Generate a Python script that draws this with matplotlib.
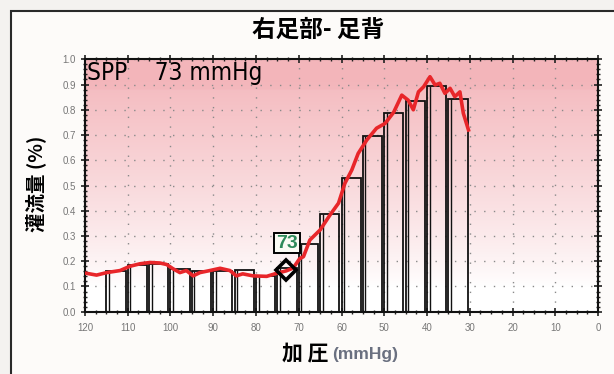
import numpy as np
import matplotlib.pyplot as plt
from matplotlib.patches import Rectangle
from matplotlib.ticker import MultipleLocator

plt.rcParams['font.family'] = ['Liberation Sans', 'Noto Sans CJK JP', 'DejaVu Sans']

# bars: left edge pressure (mmHg) and height
bar_pressure = [115, 110, 105, 100, 95, 90, 85, 80, 75, 70, 65, 60, 55, 50, 45, 40, 35]
bar_value = [0.16, 0.185, 0.19, 0.17, 0.16, 0.16, 0.165, 0.14, 0.172, 0.268,
             0.387, 0.528, 0.696, 0.786, 0.836, 0.894, 0.843]

# red perfusion trace
curve_pressure = [119.6, 117.3, 114.9, 111.8, 109.5, 107.1, 104.8, 102.5, 100.9, 99.4,
                  97.8, 96.3, 94.7, 93.1, 90.8, 88.4, 86.1, 84.6, 83.1, 80.7,
                  77.5, 75.2, 72.9, 71.3, 69.8, 68.9, 67.4, 65.0, 62.7, 60.7,
                  59.2, 57.6, 56.1, 54.1, 51.8, 49.8, 47.8, 45.9, 44.4, 43.2,
                  42.0, 40.8, 39.3, 38.1, 37.0, 35.8, 34.6, 33.5, 32.3, 31.5, 30.3]
curve_value = [0.152, 0.145, 0.155, 0.163, 0.18, 0.19, 0.195, 0.193, 0.187, 0.17,
               0.155, 0.163, 0.142, 0.155, 0.163, 0.172, 0.163, 0.142, 0.15, 0.142,
               0.14, 0.152, 0.162, 0.173, 0.21, 0.218, 0.284, 0.324, 0.383, 0.43,
               0.509, 0.561, 0.627, 0.68, 0.727, 0.746, 0.79, 0.858, 0.838, 0.8,
               0.871, 0.891, 0.931, 0.898, 0.905, 0.865, 0.885, 0.852, 0.871, 0.786, 0.72]

spp = 73
spp_value = 0.165

fig = plt.figure(figsize=(6.14, 3.74), dpi=100)
fig.patch.set_facecolor('#f4f2f0')
frame = Rectangle((11 / 614, -0.1), 1.2, 0.1 + (374 - 11) / 374, transform=fig.transFigure,
                  facecolor='#fdfbf9', edgecolor='#2a2a2a', linewidth=1.5, zorder=-5)
fig.patches.append(frame)

ax = fig.add_axes([85 / 614, (374 - 311.7) / 374, (598 - 85) / 614, (311.7 - 59.3) / 374])
ax.set_xlim(120, 0)
ax.set_ylim(0, 1.0)

# pink gradient background
t = np.linspace(0, 1, 256)
alpha = np.clip((t - 0.1) / 0.9, 0, 1) ** 0.85
alpha[t > 0.88] = np.minimum(alpha[t > 0.88] * 1.08, 1)
grad = np.ones((256, 1, 4))
grad[:, 0, 0] = 1.0 - alpha * (1 - 0.955)
grad[:, 0, 1] = 1.0 - alpha * (1 - 0.71)
grad[:, 0, 2] = 1.0 - alpha * (1 - 0.73)
ax.imshow(grad, extent=(120, 0, 0, 1), origin='lower', aspect='auto', zorder=0)

ax.grid(True, which='major', color='#8a8a8a', linestyle=(0, (1, 6)), linewidth=1, zorder=1)

ax.bar(bar_pressure, bar_value, width=-4.5, align='edge', fill=False,
       edgecolor='#111111', linewidth=1.3, zorder=2)
ax.vlines(np.array(bar_pressure) - 0.6, 0, bar_value, color='#111111', linewidth=1, zorder=2)

ax.plot(curve_pressure, curve_value, color='#e8262a', linewidth=2.6, zorder=3)

ax.plot([spp], [spp_value], marker='D', markersize=10, markerfacecolor='none',
        markeredgecolor='black', markeredgewidth=2.6, zorder=4)
ax.text(spp - 0.3, 0.272, '73', color='#2f8a5a', fontsize=14, fontweight='bold',
        ha='center', va='center', zorder=5,
        bbox=dict(boxstyle='square,pad=0.1', facecolor='#fbfbf4', edgecolor='black', linewidth=1.4))

ax.text(119.6, 0.995, 'SPP    73 mmHg', fontsize=17.5, va='top', ha='left',
        family=['DejaVu Sans Condensed', 'Liberation Sans Narrow', 'DejaVu Sans'],
        fontstretch='condensed', zorder=5)

ax.xaxis.set_major_locator(MultipleLocator(10))
ax.xaxis.set_minor_locator(MultipleLocator(2.5))
ax.yaxis.set_major_locator(MultipleLocator(0.1))
ax.yaxis.set_minor_locator(MultipleLocator(0.02))
ax.set_yticks(np.arange(0, 1.01, 0.1))
ax.set_yticklabels([f'{v:.1f}' for v in np.arange(0, 1.01, 0.1)])
ax.tick_params(which='both', direction='inout', top=True, right=True, colors='#222222',
               labelcolor='#777777', labelsize=7)
ax.tick_params(which='major', length=6, width=1.2)
ax.tick_params(which='minor', length=3, width=1)
ax.tick_params(axis='x', pad=5)
for s in ax.spines.values():
    s.set_linewidth(1.5)
    s.set_color('#111111')

fig.text(318 / 614, 1 - 30 / 374, '右足部- 足背', ha='center', va='center', fontsize=17,
         fontweight='bold', family=['Noto Sans CJK JP'])
fig.text(36 / 614, 1 - 184 / 374, '灌流量 (%)', ha='center', va='center', rotation=90,
         fontsize=14, fontweight='bold', family=['Noto Sans CJK JP'])
fig.text(329 / 614, 1 - 354 / 374, '加 圧', ha='right', va='center', fontsize=15,
         fontweight='bold', family=['Noto Sans CJK JP'])
fig.text(332 / 614, 1 - 355 / 374, '(mmHg)', ha='left', va='center', fontsize=12.5,
         fontweight='bold', color='#6a7080')

fig.savefig('out.png', dpi=100, facecolor=fig.get_facecolor())
